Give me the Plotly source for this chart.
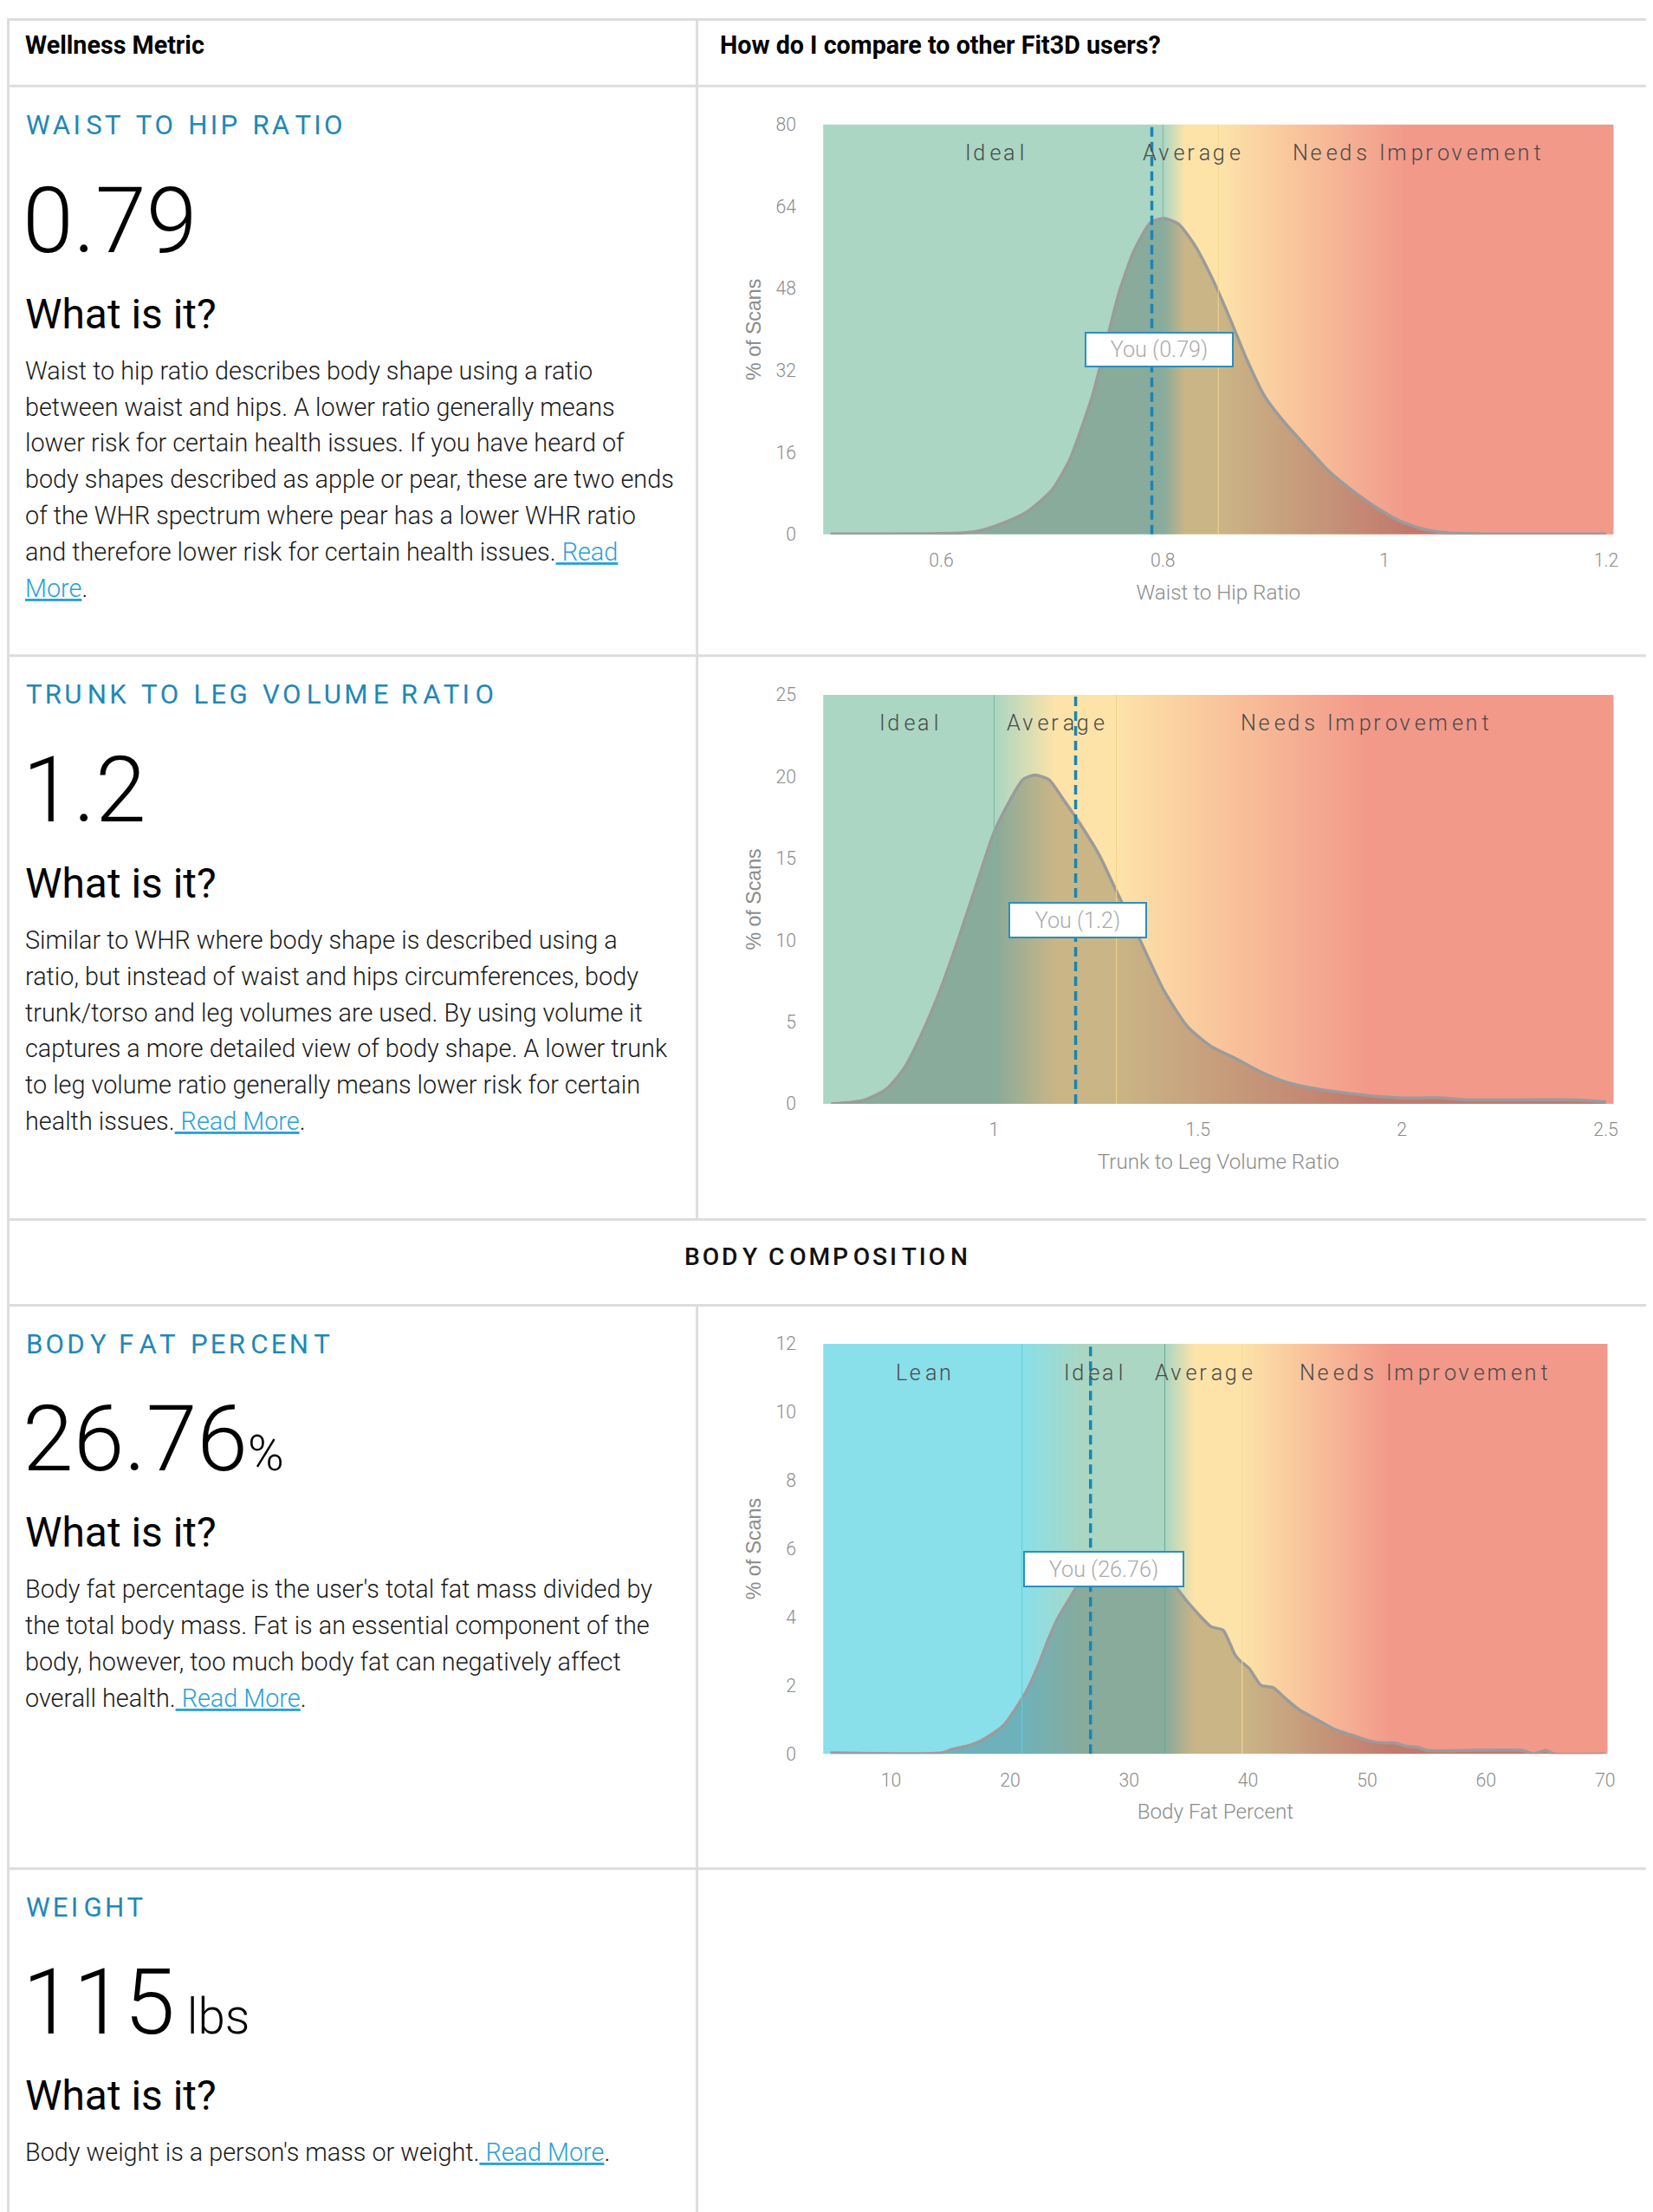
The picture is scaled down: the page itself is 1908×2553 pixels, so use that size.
import plotly.graph_objects as go
import numpy as np

# Measured mapping between figure pixels and the photographed window:
# window_x = AX + BX * fig_x, window_y = AY + BY * fig_y.
# Positions below are given in window pixels and converted with it.
AX, BX = 10.0, 0.994
AY, BY = 20.3, 0.990
FW, FH = 1914, 2560
S = 1 / ((BX + BY) / 2)  # size compensation

# ---------------- data ----------------
whr_x = [0.50, 0.62, 0.636, 0.657, 0.678, 0.70, 0.716, 0.726, 0.737, 0.75, 0.761, 0.774, 0.789, 0.801,
         0.814, 0.828, 0.844, 0.86, 0.876, 0.892, 0.908, 0.929, 0.95, 0.972, 0.993, 1.014, 1.036, 1.057, 1.10, 1.20]
whr_y = [0.1, 0.3, 0.8, 2.3, 4.5, 8.7, 14.6, 20.4, 27.5, 38.5, 47.6, 55.4, 60.9, 61.7,
         60.6, 56.7, 50.2, 42.4, 34.0, 26.9, 22.3, 17.2, 12.3, 8.4, 5.2, 2.6, 1.0, 0.3, 0.1, 0.1]
whr_you = 0.79

tlv_x = [0.60, 0.678, 0.736, 0.78, 0.823, 0.867, 0.91, 0.954, 1.0, 1.04, 1.07, 1.10, 1.135, 1.17, 1.214,
         1.258, 1.30, 1.36, 1.417, 1.475, 1.533, 1.59, 1.65, 1.72, 1.794, 1.867, 1.94, 2.0, 2.1, 2.157,
         2.23, 2.43, 2.50]
tlv_y = [0.0, 0.2, 0.9, 2.2, 4.3, 6.9, 9.9, 13.2, 16.6, 18.6, 19.8, 20.1, 19.8, 18.6, 17.0,
         15.2, 13.0, 9.9, 6.9, 4.7, 3.5, 2.8, 2.0, 1.3, 0.9, 0.65, 0.45, 0.36, 0.36, 0.24,
         0.24, 0.24, 0.12]
tlv_you = 1.2

bfp_x = [4.9, 14.3, 15.1, 16.6, 17.5, 18.5, 19.5, 20.5, 21.5, 22.5, 23.25, 24.0, 25.0, 26.0, 27.5, 29.0,
         30.5, 32.0, 33.5, 34.9, 35.9, 36.9, 37.9, 38.9, 39.4, 40.1, 41.1, 42.1, 43.1, 44.3, 45.8,
         47.3, 48.8, 50.3, 51.3, 52.3, 53.3, 54.3, 55.0, 58.2, 63.0, 64.0, 65.0, 65.7, 70.0]
bfp_y = [0.03, 0.03, 0.13, 0.25, 0.37, 0.58, 0.85, 1.34, 1.92, 2.7, 3.38, 3.96, 4.54, 5.1, 5.35, 5.45,
         5.45, 5.35, 5.05, 4.45, 4.06, 3.72, 3.62, 2.9, 2.7, 2.5, 2.0, 1.94, 1.63, 1.29, 1.0,
         0.71, 0.54, 0.37, 0.32, 0.32, 0.22, 0.19, 0.1, 0.1, 0.1, 0.0, 0.1, 0.0, 0.0]
bfp_you = 26.76

GREEN, YELLOW, RED, CYAN = "#aad6c3", "#fde3a8", "#f2998a", "#89dfea"

whr_stops = [(0.80, GREEN), (0.82, YELLOW), (0.85, YELLOW), (1.02, RED)]
tlv_stops = [(1.00, GREEN), (1.15, YELLOW), (1.30, YELLOW), (1.92, RED)]
bfp_stops = [(21.0, CYAN), (26.0, GREEN), (33.0, GREEN), (35.5, YELLOW), (39.5, YELLOW), (52.0, RED)]

whr_bounds = [(0.80, "#7fb7a0"), (0.85, "#f0d38a")]
tlv_bounds = [(1.00, "#7fb7a0"), (1.30, "#f0d38a")]
bfp_bounds = [(21.0, "#5fcfdd"), (33.0, "#6fa891"), (39.5, "#f6dc9c")]

whr_labels = ["Ideal", "Average", "Needs Improvement"]
whr_label_x = [0.648, 0.826, 1.029]
tlv_labels = ["Ideal", "Average", "Needs Improvement"]
tlv_label_x = [0.79, 1.15, 1.91]
bfp_labels = ["Lean", "Ideal", "Average", "Needs Improvement"]
bfp_label_x = [12.7, 27.0, 36.3, 54.8]

whr_xticks = [0.6, 0.8, 1, 1.2]
whr_yticks = [0, 16, 32, 48, 64, 80]
tlv_xticks = [1, 1.5, 2, 2.5]
tlv_yticks = [0, 5, 10, 15, 20, 25]
bfp_xticks = [10, 20, 30, 40, 50, 60, 70]
bfp_yticks = [0, 2, 4, 6, 8, 10, 12]

metric_titles = ["WAIST TO HIP RATIO", "TRUNK TO LEG VOLUME RATIO", "BODY FAT PERCENT", "WEIGHT"]
metric_values = ["0.79", "1.2", "26.76", "115"]
metric_units = ["", "", "%", " lbs"]
metric_texts = [
    ["Waist to hip ratio describes body shape using a ratio",
     "between waist and hips. A lower ratio generally means",
     "lower risk for certain health issues. If you have heard of",
     "body shapes described as apple or pear, these are two ends",
     "of the WHR spectrum where pear has a lower WHR ratio",
     "and therefore lower risk for certain health issues.[ Read]",
     "[More]."],
    ["Similar to WHR where body shape is described using a",
     "ratio, but instead of waist and hips circumferences, body",
     "trunk/torso and leg volumes are used. By using volume it",
     "captures a more detailed view of body shape. A lower trunk",
     "to leg volume ratio generally means lower risk for certain",
     "health issues.[ Read More]."],
    ["Body fat percentage is the user's total fat mass divided by",
     "the total body mass. Fat is an essential component of the",
     "body, however, too much body fat can negatively affect",
     "overall health.[ Read More]."],
    ["Body weight is a person's mass or weight.[ Read More]."],
]

# ---------------- helpers ----------------
HAIR = "\u200a"


def spaced(s, pattern=(1,)):
    out = s[0]
    for i, ch in enumerate(s[1:]):
        out += HAIR * pattern[i % len(pattern)] + ch
    return out


def px(x):
    return ((x - AX) / BX) / FW


def py(y):
    return 1 - ((y - AY) / BY) / FH


def fs(v):
    return round(v * S, 1)


BLUE = "#1f88b6"
LINK = "#2aa1d6"
TICK = "#8c8c8c"
BORDER = "#dddddd"

fig = go.Figure()
shapes = []
annos = []


def hline_p(y0p, x0p, x1p, w=3):
    shapes.append(dict(type="line", xref="paper", yref="paper", x0=x0p, x1=x1p, y0=y0p, y1=y0p,
                       line=dict(color=BORDER, width=w), layer="below"))


def vline_p(x0p, y0p, y1p, w=3):
    shapes.append(dict(type="line", xref="paper", yref="paper", x0=x0p, x1=x0p, y0=y0p, y1=y1p,
                       line=dict(color=BORDER, width=w), layer="below"))


# table frame; top/left outer edges sit at the figure edge
top_p = 1 - 1.5 / FH
left_p = 1.5 / FW
right_p = px(1906.5)
hline_p(top_p, left_p, right_p)
for yy in [98.5, 756, 1406.5, 1505.5, 2155.5]:
    hline_p(py(yy), left_p, right_p)
vline_p(left_p, 0, 1)
vline_p(right_p, 0, top_p)
vline_p(px(805.5), py(1407), top_p)
vline_p(px(805.5), 0, py(1505))

annos.append(dict(text="<b>Wellness Metric</b>", x=px(29), y=py(51), xref="paper", yref="paper",
                  xanchor="left", yanchor="middle", showarrow=False,
                  font=dict(family="Roboto", size=fs(28.5), color="#000")))
annos.append(dict(text="<b>How do I compare to other Fit3D users?</b>", x=px(830), y=py(51), xref="paper",
                  yref="paper", xanchor="left", yanchor="middle", showarrow=False,
                  font=dict(family="Roboto", size=fs(28.5), color="#000")))
annos.append(dict(text=spaced("BODY COMPOSITION", (1, 1, 2)), x=px(954), y=py(1449), xref="paper",
                  yref="paper", xanchor="center", yanchor="middle", showarrow=False,
                  font=dict(family="Roboto", size=fs(28), color="#111", weight=500)))

# ---------------- left column ----------------
row_tops = [99, 756, 1505, 2155]
for i, top in enumerate(row_tops):
    annos.append(dict(text=spaced(metric_titles[i], (1, 1, 2)), x=px(30), y=py(top + 45), xref="paper",
                      yref="paper", xanchor="left", yanchor="middle", showarrow=False,
                      font=dict(family="Roboto", size=fs(31), color=BLUE)))
    txt = metric_values[i]
    if metric_units[i]:
        txt += "<span style='font-size:%spx'>%s</span>" % (fs(56), metric_units[i])
    annos.append(dict(text=txt, x=px(26), y=py(top + 155), xref="paper", yref="paper",
                      xanchor="left", yanchor="middle", showarrow=False,
                      font=dict(family="Roboto", size=fs(105), color="#000", weight=300)))
    annos.append(dict(text="What is it?", x=px(29), y=py(top + 263), xref="paper", yref="paper",
                      xanchor="left", yanchor="middle", showarrow=False,
                      font=dict(family="Roboto", size=fs(47.5), color="#000")))
    for j, line in enumerate(metric_texts[i]):
        t = line.replace("[", "<span style='color:%s;text-decoration:underline'>" % LINK).replace("]", "</span>")
        annos.append(dict(text=t, x=px(29), y=py(top + 328 + 41.8 * j), xref="paper", yref="paper",
                          xanchor="left", yanchor="middle", showarrow=False,
                          font=dict(family="Roboto", size=fs(28.6), color="#1a1a1a", weight=300)))

# ---------------- charts ----------------
charts = [
    dict(x=whr_x, y=whr_y, you=whr_you, stops=whr_stops, bounds=whr_bounds, labels=whr_labels,
         label_x=whr_label_x, xticks=whr_xticks, yticks=whr_yticks, xr=[0.4935, 1.2066],
         title="Waist to Hip Ratio", dom_x=(951, 1862), dom_y=(143, 616), fmt="%.2f", xshift=8,
         box=(156, 25)),
    dict(x=tlv_x, y=tlv_y, you=tlv_you, stops=tlv_stops, bounds=tlv_bounds, labels=tlv_labels,
         label_x=tlv_label_x, xticks=tlv_xticks, yticks=tlv_yticks, xr=[0.581, 2.519],
         title="Trunk to Leg Volume Ratio", dom_x=(951, 1862), dom_y=(801, 1273), fmt="%g", xshift=2,
         box=(144, 26)),
    dict(x=bfp_x, y=bfp_y, you=bfp_you, stops=bfp_stops, bounds=bfp_bounds, labels=bfp_labels,
         label_x=bfp_label_x, xticks=bfp_xticks, yticks=bfp_yticks, xr=[4.3, 70.2],
         title="Body Fat Percent", dom_x=(951, 1855), dom_y=(1550, 2023), fmt="%.2f", xshift=15,
         box=(170, 26)),
]

layout_axes = {}
for k, c in enumerate(charts):
    n = "" if k == 0 else str(k + 1)
    xa, ya = "x" + n, "y" + n
    xmin, xmax = c["xr"]
    ymax = c["yticks"][-1]
    stops = [(xmin, c["stops"][0][1])] + c["stops"] + [(xmax, c["stops"][-1][1])]
    cs = [[(p - xmin) / (xmax - xmin), col] for p, col in stops]
    xs_bg = np.linspace(xmin, xmax, 600)
    fig.add_trace(go.Heatmap(x=xs_bg, y=[0, ymax], z=[xs_bg, xs_bg], colorscale=cs, zmin=xmin, zmax=xmax,
                             showscale=False, hoverinfo="skip", xaxis=xa, yaxis=ya))
    fig.add_trace(go.Scatter(x=c["x"], y=c["y"], mode="lines", fill="tozeroy",
                             fillcolor="rgba(0,0,0,0.2)",
                             line=dict(color="#9b9b9b", width=3.5, shape="spline", smoothing=0.6),
                             hoverinfo="skip", xaxis=xa, yaxis=ya, showlegend=False))
    for b, col in c["bounds"]:
        shapes.append(dict(type="line", xref=xa, yref=ya, x0=b, x1=b, y0=0, y1=ymax,
                           line=dict(color=col, width=1), layer="above"))
    shapes.append(dict(type="line", xref=xa, yref=ya, x0=c["you"], x1=c["you"], y0=0, y1=ymax,
                       line=dict(color="#1786b6", width=3.5, dash="11px,6px"), layer="above"))
    for lab, lx in zip(c["labels"], c["label_x"]):
        annos.append(dict(text=spaced(lab, (1, 2)), x=lx, y=1, xref=xa, yref=ya + " domain", yshift=-33,
                          xanchor="center", yanchor="middle", showarrow=False,
                          font=dict(family="Roboto", size=fs(25), color="#4a4a4a", weight=300)))
    label = "You (%s)" % (c["fmt"] % c["you"])
    annos.append(dict(text=label, x=c["you"], y=0.45 * ymax, xref=xa, yref=ya, xshift=c["xshift"],
                      xanchor="center", yanchor="middle", showarrow=False,
                      width=c["box"][0], height=c["box"][1], align="center", valign="middle",
                      bgcolor="#ffffff", bordercolor="#2a8fbf", borderwidth=2, borderpad=6,
                      font=dict(family="Roboto", size=fs(25), color="#ababab", weight=300)))
    axfont = dict(family="Roboto", size=fs(21), color=TICK, weight=300)
    layout_axes["xaxis" + n] = dict(domain=[px(c["dom_x"][0]), px(c["dom_x"][1])], range=[xmin, xmax],
                                    anchor=ya, tickvals=c["xticks"], showgrid=False, zeroline=False,
                                    showline=False, ticks="outside", ticklen=11, tickcolor="rgba(0,0,0,0)",
                                    tickfont=axfont, fixedrange=True,
                                    title=dict(text=c["title"], standoff=16,
                                               font=dict(family="Roboto", size=fs(24), color=TICK, weight=300)))
    layout_axes["yaxis" + n] = dict(domain=[py(c["dom_y"][1]), py(c["dom_y"][0])], range=[0, ymax],
                                    anchor=xa, tickvals=c["yticks"], showgrid=False, zeroline=False,
                                    showline=False, ticks="outside", ticklen=26, tickcolor="rgba(0,0,0,0)",
                                    tickfont=axfont, fixedrange=True,
                                    title=dict(text="% of Scans", standoff=10,
                                               font=dict(family="Liberation Sans", size=fs(23), color=TICK)))

fig.update_layout(width=FW, height=FH, autosize=False, margin=dict(l=0, r=0, t=0, b=0),
                  paper_bgcolor="white", plot_bgcolor="white", showlegend=False,
                  shapes=shapes, annotations=annos, **layout_axes)
fig.write_html("out.html")
